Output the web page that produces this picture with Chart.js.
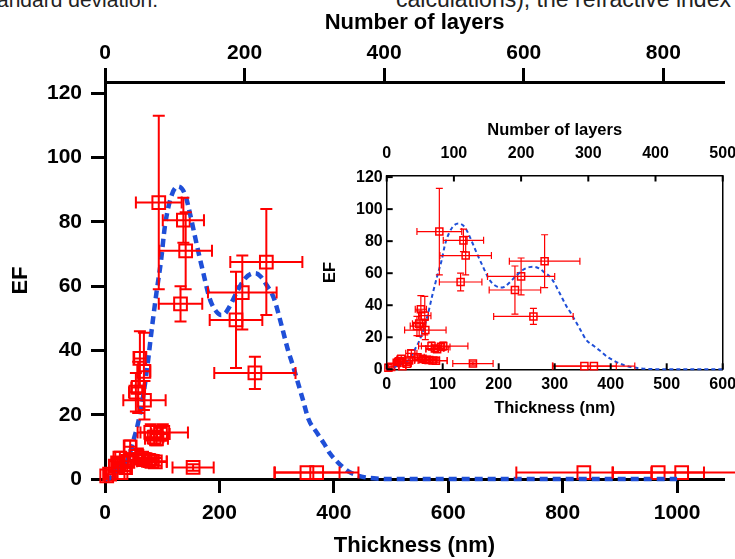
<!DOCTYPE html>
<html>
<head>
<meta charset="utf-8">
<script src="https://cdn.jsdelivr.net/npm/chart.js@4.4.0/dist/chart.umd.min.js"></script>
<style>
  html, body { margin: 0; padding: 0; background: #fff; overflow: hidden; }
  #wrap { position: relative; width: 735px; height: 559px; overflow: hidden; font-family: "Liberation Sans", Arial, sans-serif; }
  .cut { position: absolute; top: -12px; font-size: 21px; line-height: 24px; color: #222; white-space: nowrap; }
  #main { position: absolute; left: 0; top: 0; }
  #inset { position: absolute; left: 320px; top: 115px; }
</style>
</head>
<body>
<div id="wrap">
  <div class="cut" style="left:-3px">andard deviation.</div>
  <div class="cut" style="left:396px;font-size:23px;top:-13px">calculations), the refractive index</div>
  <canvas id="main" width="735" height="559"></canvas>
  <canvas id="inset" width="430" height="310"></canvas>
</div>
<script>
// Measured samples: thickness (nm), EF and their standard deviations
const thickness    = [94, 137, 141, 132, 229, 240, 282, 262, 154, 353, 370, 837, 967, 1008,
                      3, 8, 18, 22, 26, 28, 36, 40, 44, 55, 54, 58, 61, 68, 69,
                      64, 70, 76, 82, 88, 80, 86, 90, 101, 97];
const efMeasured   = [86, 80.5, 71, 54.5, 49.5, 58, 67.5, 33, 3.6, 2, 2, 2, 2, 2,
                      1, 1.5, 4, 5, 6.5, 2, 3.5, 5.5, 10, 7.5, 27, 28.5, 37.5, 33.5, 24.5,
                      6.5, 6, 5.8, 5.5, 5.3, 14.5, 13, 12.5, 14.5, 14];
const thicknessErr = [40, 36, 46, 38, 46, 60, 63, 71, 36, 57, 73, 118, 80, 120,
                      3, 5, 6, 8, 8, 6, 8, 10, 10, 12, 12, 12, 10, 11, 37,
                      14, 20, 18, 26, 20, 18, 16, 20, 44, 16];
const efErr        = [27, 7, 12, 5.5, 15, 11.5, 16.5, 5, 1, 0, 0, 0, 0, 0,
                      0, 0, 1.5, 1.5, 2, 0, 1, 1.5, 2, 1.5, 6, 8, 8.5, 12, 6,
                      1.5, 1.5, 1.5, 1, 1.2, 2.5, 2, 2, 2.5, 2];

// Simulated EF curve
const simThickness = [0, 10, 20, 30, 40, 48, 57, 66, 74, 82, 90, 98, 105, 117, 128, 140, 148, 156,
                      164, 172, 180, 186, 195, 203, 210, 218, 230, 243, 255, 263, 272, 280, 295,
                      309, 320, 329, 338, 346, 356, 370, 383, 393, 403, 415, 426, 440, 455, 470,
                      500, 600, 800, 1000];
const simEF        = [0, 0.5, 2.8, 4.3, 5.9, 11, 16.8, 25, 35, 47, 58, 68, 79, 88.5, 91, 88.5, 83, 76.5,
                      70, 64, 58, 54.7, 52, 51, 51.5, 53.7, 58, 62, 63.8, 64, 63, 61, 56.3,
                      47.5, 40, 35, 29.5, 24.6, 18.5, 14.5, 11, 8, 5.9, 3.8, 2.3, 1.2, 0.5, 0.2,
                      0, 0, 0, 0];

const RED = '#ff0000';
const BLUE = '#1f4fd8';
Chart.defaults.font.family = '"Liberation Sans", Arial, sans-serif';
Chart.defaults.color = '#000';

const measuredPoints = thickness.map((t, i) => ({ x: t, y: efMeasured[i] }));
const simPoints = simThickness.map((t, i) => ({ x: t, y: simEF[i] }));
const plainLabel = v => String(v);

// Draw x/y error bars for the measured samples
const errorBars = {
  id: 'errorBars',
  afterDatasetsDraw(chart, args, opts) {
    const xs = chart.scales.x, ys = chart.scales.y;
    const area = chart.chartArea;
    const ctx = chart.ctx;
    const c = opts.cap;
    ctx.save();
    ctx.beginPath();
    const right = opts.clipRight ? area.right : chart.width;
    ctx.rect(area.left - 20, area.top - 20, right - area.left + 20, area.bottom - area.top + 40);
    ctx.clip();
    ctx.strokeStyle = opts.color;
    ctx.lineWidth = opts.width;
    thickness.forEach((t, i) => {
      const x = xs.getPixelForValue(t);
      const y = ys.getPixelForValue(efMeasured[i]);
      const x0 = xs.getPixelForValue(t - thicknessErr[i]);
      const x1 = xs.getPixelForValue(t + thicknessErr[i]);
      ctx.beginPath();
      ctx.moveTo(x0, y); ctx.lineTo(x1, y);
      ctx.moveTo(x0, y - c); ctx.lineTo(x0, y + c);
      ctx.moveTo(x1, y - c); ctx.lineTo(x1, y + c);
      if (efErr[i] > 0) {
        const y0 = ys.getPixelForValue(efMeasured[i] - efErr[i]);
        const y1 = ys.getPixelForValue(efMeasured[i] + efErr[i]);
        ctx.moveTo(x, y0); ctx.lineTo(x, y1);
        ctx.moveTo(x - c, y0); ctx.lineTo(x + c, y0);
        ctx.moveTo(x - c, y1); ctx.lineTo(x + c, y1);
      }
      ctx.stroke();
    });
    ctx.restore();
  }
};

// Tick marks pointing into the plot (inset only)
const innerTicks = {
  id: 'innerTicks',
  afterDraw(chart, args, opts) {
    const ctx = chart.ctx, a = chart.chartArea;
    ctx.save();
    ctx.strokeStyle = '#000';
    ctx.lineWidth = opts.width;
    ['x', 'x2', 'y'].forEach(id => {
      const s = chart.scales[id];
      s.ticks.forEach(tk => {
        const p = s.getPixelForValue(tk.value);
        ctx.beginPath();
        if (id === 'x') { ctx.moveTo(p, a.bottom); ctx.lineTo(p, a.bottom - opts.length); }
        if (id === 'x2') { ctx.moveTo(p, a.top); ctx.lineTo(p, a.top + opts.length); }
        if (id === 'y') { ctx.moveTo(a.left, p); ctx.lineTo(a.left + opts.length, p); }
        ctx.stroke();
      });
    });
    ctx.restore();
  }
};

// Main chart
const mainAxisGrid = { drawOnChartArea: false, drawTicks: true, tickLength: 14, tickWidth: 3, tickColor: '#000' };
const mainBorder = { color: '#000', width: 3 };

new Chart(document.getElementById('main'), {
  type: 'scatter',
  data: {
    datasets: [
      {
        data: simPoints,
        showLine: true,
        borderColor: BLUE,
        borderWidth: 4.5,
        borderDash: [8, 5],
        pointRadius: 0,
        cubicInterpolationMode: 'monotone',
        clip: false
      },
      {
        data: measuredPoints,
        pointStyle: 'rect',
        pointRadius: 9,
        pointBorderWidth: 2,
        pointBorderColor: RED,
        pointBackgroundColor: 'transparent',
        clip: false
      }
    ]
  },
  options: {
    responsive: false,
    animation: false,
    layout: { padding: 0 },
    plugins: {
      legend: { display: false },
      tooltip: { enabled: false },
      errorBars: { cap: 6, width: 2, color: RED, clipRight: false }
    },
    scales: {
      x: {
        type: 'linear', position: 'bottom', min: 0, max: 1082,
        ticks: { stepSize: 200, includeBounds: false, padding: 8, font: { size: 21, weight: 'bold' }, callback: plainLabel },
        grid: mainAxisGrid, border: mainBorder,
        title: { display: true, text: 'Thickness (nm)', font: { size: 22, weight: 'bold' }, padding: { top: 0, bottom: 0 } },
        afterFit: s => { s.height = 80; }
      },
      x2: {
        type: 'linear', position: 'top', min: 0, max: 887,
        ticks: { stepSize: 200, includeBounds: false, padding: 2, font: { size: 21, weight: 'bold' }, callback: plainLabel },
        grid: mainAxisGrid, border: mainBorder,
        title: { display: true, text: 'Number of layers', font: { size: 22, weight: 'bold' }, padding: { top: 10, bottom: 0 } },
        afterFit: s => { s.height = 82; }
      },
      y: {
        type: 'linear', min: 0, max: 123.5,
        ticks: { stepSize: 20, includeBounds: false, padding: 9, font: { size: 21, weight: 'bold' }, callback: plainLabel },
        grid: mainAxisGrid, border: mainBorder,
        title: { display: true, text: 'EF', font: { size: 22, weight: 'bold' }, padding: { top: 8, bottom: 0 } },
        afterFit: s => { s.width = 105; }
      }
    }
  },
  plugins: [errorBars]
});

// Inset chart
const insetGrid = { drawOnChartArea: false, drawTicks: false };
const insetBorder = { color: '#000', width: 1.5 };

new Chart(document.getElementById('inset'), {
  type: 'scatter',
  data: {
    datasets: [
      {
        data: simPoints,
        showLine: true,
        borderColor: BLUE,
        borderWidth: 2,
        borderDash: [4, 3],
        pointRadius: 0,
        cubicInterpolationMode: 'monotone',
        clip: { left: 5, top: 5, right: 0, bottom: 5 }
      },
      {
        data: measuredPoints,
        pointStyle: 'rect',
        pointRadius: 5,
        pointBorderWidth: 1.5,
        pointBorderColor: RED,
        pointBackgroundColor: 'transparent',
        clip: { left: 8, top: 8, right: 0, bottom: 8 }
      }
    ]
  },
  options: {
    responsive: false,
    animation: false,
    layout: { padding: 0 },
    plugins: {
      legend: { display: false },
      tooltip: { enabled: false },
      errorBars: { cap: 3.5, width: 1.2, color: RED, clipRight: true },
      innerTicks: { length: 6, width: 2 }
    },
    scales: {
      x: {
        type: 'linear', position: 'bottom', min: 0, max: 600,
        ticks: { stepSize: 100, includeBounds: false, padding: 6, font: { size: 16, weight: 'bold' }, callback: plainLabel },
        grid: insetGrid, border: insetBorder,
        title: { display: true, text: 'Thickness (nm)', font: { size: 16.5, weight: 'bold' }, padding: { top: 0, bottom: 7 } },
        afterFit: s => { s.height = 55.7; }
      },
      x2: {
        type: 'linear', position: 'top', min: 0, max: 500,
        ticks: { stepSize: 100, padding: 12, font: { size: 16, weight: 'bold' }, callback: plainLabel },
        grid: insetGrid, border: insetBorder,
        title: { display: true, text: 'Number of layers', font: { size: 16.5, weight: 'bold' }, padding: { top: 6, bottom: 0 } },
        afterFit: s => { s.height = 60.5; }
      },
      y: {
        type: 'linear', min: 0, max: 121,
        ticks: { stepSize: 20, includeBounds: false, padding: 4, font: { size: 16, weight: 'bold' }, callback: plainLabel },
        grid: insetGrid, border: insetBorder,
        title: { display: true, text: 'EF', font: { size: 16.5, weight: 'bold' }, padding: { top: 1, bottom: 0 } },
        afterFit: s => { s.width = 66.7; }
      },
      y2: {
        type: 'linear', position: 'right', min: 0, max: 121,
        ticks: { display: false },
        grid: insetGrid, border: insetBorder,
        afterFit: s => { s.width = 27.3; }
      }
    }
  },
  plugins: [errorBars, innerTicks]
});
</script>
</body>
</html>
